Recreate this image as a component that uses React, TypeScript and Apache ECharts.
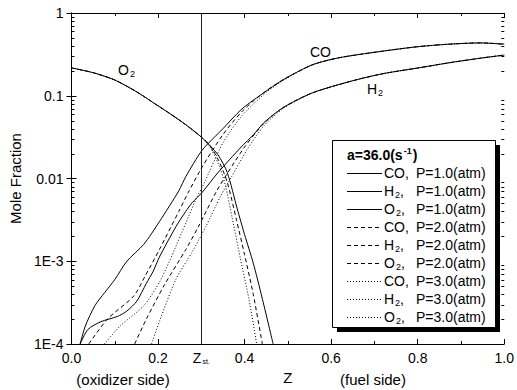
import React, { useEffect, useRef } from 'react';
import * as echarts from 'echarts';

const Z_ST = 0.303;
const X_TICK_LABELS = ['0.0', '0.2', '0.4', '0.6', '0.8', '1.0'];
const Y_TICK_VALUES = [1e-4, 1e-3, 1e-2, 1e-1, 1];
const Y_TICK_LABELS = ['1E-4', '1E-3', '0.01', '0.1', '1'];

// P = 1.0 atm (solid)
const CO_P1 = [[0.02, 1.0e-4], [0.032, 1.65e-4], [0.054, 2.9e-4], [0.077, 4.2e-4], [0.1, 6.0e-4], [0.128, 1.0e-3], [0.167, 1.6e-3], [0.203, 3.0e-3], [0.248, 7.1e-3], [0.264, 1.05e-2], [0.302, 2.2e-2], [0.35, 4.0e-2], [0.392, 6.8e-2], [0.421, 8.9e-2], [0.489, 0.156], [0.556, 0.236], [0.617, 0.287], [0.707, 0.339], [0.797, 0.39], [0.872, 0.42], [0.946, 0.435], [1.0, 0.42]];
const H2_P1 = [[0.02, 1.0e-4], [0.038, 1.5e-4], [0.068, 1.86e-4], [0.106, 2.15e-4], [0.128, 2.5e-4], [0.151, 3.3e-4], [0.173, 5.4e-4], [0.189, 7.6e-4], [0.203, 1.12e-3], [0.241, 2.6e-3], [0.264, 4.0e-3], [0.279, 5.1e-3], [0.302, 6.8e-3], [0.338, 1.17e-2], [0.392, 2.4e-2], [0.421, 3.4e-2], [0.444, 4.7e-2], [0.489, 7.2e-2], [0.556, 0.108], [0.646, 0.15], [0.72, 0.185], [0.797, 0.215], [0.872, 0.25], [0.946, 0.285], [1.0, 0.31]];
const O2_P1 = [[0.0, 0.217], [0.05, 0.19], [0.1, 0.155], [0.15, 0.112], [0.196, 0.078], [0.23, 0.0596], [0.264, 0.0447], [0.302, 0.031], [0.338, 0.0195], [0.36, 0.0118], [0.383, 0.0043], [0.4, 0.0021], [0.42, 0.00095], [0.44, 0.00037], [0.466, 0.0001]];

// P = 2.0 atm (dashed)
const CO_P2 = [[0.04, 1.0e-4], [0.083, 2.0e-4], [0.144, 3.8e-4], [0.17, 6.6e-4], [0.203, 1.38e-3], [0.248, 4.0e-3], [0.27, 6.8e-3], [0.302, 1.38e-2], [0.35, 3.4e-2], [0.392, 6.3e-2], [0.421, 8.7e-2], [0.45, 0.115], [0.489, 0.156], [0.556, 0.236], [0.617, 0.287], [0.707, 0.339], [0.797, 0.39], [0.872, 0.42], [0.946, 0.435], [1.0, 0.42]];
const H2_P2 = [[0.146, 1.0e-4], [0.173, 2.0e-4], [0.215, 5.2e-4], [0.264, 1.38e-3], [0.293, 2.6e-3], [0.335, 7.0e-3], [0.36, 1.15e-2], [0.4, 2.4e-2], [0.444, 4.6e-2], [0.489, 7.2e-2], [0.556, 0.108], [0.646, 0.15], [0.72, 0.185], [0.797, 0.215], [0.872, 0.25], [0.946, 0.285], [1.0, 0.31]];
const O2_P2 = [[0.0, 0.217], [0.05, 0.19], [0.1, 0.155], [0.15, 0.112], [0.196, 0.078], [0.23, 0.0596], [0.264, 0.0447], [0.302, 0.031], [0.32, 0.025], [0.34, 0.0165], [0.36, 0.009], [0.381, 0.0032], [0.4, 0.0012], [0.42, 0.0004], [0.441, 0.0001]];

// P = 3.0 atm (dotted)
const CO_P3 = [[0.076, 1.0e-4], [0.113, 1.66e-4], [0.167, 2.9e-4], [0.205, 5.8e-4], [0.241, 1.5e-3], [0.29, 6.0e-3], [0.302, 7.8e-3], [0.35, 2.7e-2], [0.392, 5.6e-2], [0.421, 8.0e-2], [0.45, 0.11], [0.489, 0.153], [0.556, 0.236], [0.617, 0.287], [0.707, 0.339], [0.797, 0.39], [0.872, 0.42], [0.946, 0.435], [1.0, 0.42]];
const H2_P3 = [[0.185, 1.0e-4], [0.203, 1.86e-4], [0.241, 6.0e-4], [0.279, 1.3e-3], [0.31, 2.6e-3], [0.345, 6.2e-3], [0.37, 1.05e-2], [0.405, 2.2e-2], [0.444, 4.3e-2], [0.489, 7.0e-2], [0.556, 0.108], [0.646, 0.15], [0.72, 0.185], [0.797, 0.215], [0.872, 0.25], [0.946, 0.285], [1.0, 0.31]];
const O2_P3 = [[0.0, 0.217], [0.05, 0.19], [0.1, 0.155], [0.15, 0.112], [0.196, 0.078], [0.23, 0.0596], [0.264, 0.0447], [0.302, 0.031], [0.32, 0.024], [0.34, 0.0148], [0.355, 0.0085], [0.372, 0.0032], [0.39, 0.0011], [0.41, 0.00035], [0.428, 0.0001]];

const LEGEND_TITLE = 'a=36.0(s';
const LEGEND_SPECIES = ['CO', 'H2', 'O2'];
const LEGEND_PRESSURES = ['1.0', '2.0', '3.0'];

const FONT = '"Liberation Sans", Arial, Helvetica, sans-serif';
const DASH: any[] = ['solid', [4, 3], [1, 2]];

const MINOR_TICKS: number[] = [];
for (let d = -4; d < 0; d++) {
  for (let m = 2; m <= 9; m++) MINOR_TICKS.push(m * Math.pow(10, d));
}

const rich = {
  n: { fontSize: 14, fontFamily: FONT, color: '#000' },
  s: { fontSize: 9, fontFamily: FONT, color: '#000', padding: [8, 0, 0, 1] },
};

function speciesText(sp: string, comma: boolean) {
  const c = comma ? ',' : '';
  if (sp === 'CO') return `{n|CO${c}}`;
  return `{n|${sp[0]}}{s|${sp.slice(1)}}{n|${c}}`;
}

export default function App() {
  const ref = useRef<HTMLDivElement>(null);
  useEffect(() => {
    const chart = echarts.init(ref.current!, null, { renderer: 'svg' });

    const seriesData = [
      [CO_P1, H2_P1, O2_P1],
      [CO_P2, H2_P2, O2_P2],
      [CO_P3, H2_P3, O2_P3],
    ];
    const series: any[] = [];
    seriesData.forEach((group, pi) => {
      group.forEach((data, si) => {
        const s: any = {
          name: `${LEGEND_SPECIES[si]} P=${LEGEND_PRESSURES[pi]}`,
          type: 'line',
          xAxisIndex: 0,
          yAxisIndex: 0,
          data,
          symbol: 'none',
          showSymbol: false,
          smooth: 0.25,
          silent: true,
          lineStyle: { color: '#000', width: 1, type: DASH[pi] },
          z: 3,
        };
        if (pi === 0 && si === 0) {
          s.markLine = {
            silent: true,
            symbol: ['none', 'none'],
            lineStyle: { color: '#222', width: 1, type: 'solid' },
            label: {
              show: true,
              position: 'start',
              distance: 6,
              formatter: '{z|Z}{t|st.}',
              rich: {
                z: { fontSize: 14, fontFamily: FONT, color: '#000' },
                t: { fontSize: 7, fontFamily: FONT, color: '#000', padding: [8, 0, 0, 1] },
              },
            },
            data: [{ xAxis: Z_ST }],
          };
        }
        series.push(s);
      });
    });

    series.push({
      type: 'custom',
      xAxisIndex: 0,
      yAxisIndex: 0,
      silent: true,
      clip: false,
      z: 5,
      data: MINOR_TICKS.map((v) => [0, v]),
      renderItem: (params: any, api: any) => {
        const pt = api.coord([0, api.value(1)]);
        const cs = params.coordSys;
        const y = Math.round(pt[1]) + 0.5;
        return {
          type: 'group',
          children: [
            { type: 'line', shape: { x1: cs.x, y1: y, x2: cs.x + 3, y2: y }, style: { stroke: '#000', lineWidth: 1 } },
            { type: 'line', shape: { x1: cs.x + cs.width - 3, y1: y, x2: cs.x + cs.width, y2: y }, style: { stroke: '#000', lineWidth: 1 } },
          ],
        };
      },
    });

    // legend graphic
    const lx = 332, ly = 140, lw = 163, lh = 187;
    const legendEls: any[] = [
      { type: 'rect', shape: { x: lx + 5, y: ly + 5, width: lw, height: lh }, style: { fill: '#000' }, z: 10 },
      { type: 'rect', shape: { x: lx + 0.5, y: ly + 0.5, width: lw, height: lh }, style: { fill: '#fff', stroke: '#000', lineWidth: 1 }, z: 11 },
      {
        type: 'text', x: 347, y: 155, z: 12,
        style: {
          text: `{b|${LEGEND_TITLE}}{u|-1}{b|)}`,
          verticalAlign: 'middle',
          rich: {
            b: { fontSize: 14, fontWeight: 'bold', fontFamily: FONT, color: '#000' },
            u: { fontSize: 9, fontWeight: 'bold', fontFamily: FONT, color: '#000', padding: [0, 1, 8, 1] },
          },
        },
      },
    ];
    let row = 0;
    LEGEND_PRESSURES.forEach((p, pi) => {
      LEGEND_SPECIES.forEach((sp) => {
        const y = 173 + row * 18;
        legendEls.push({
          type: 'line', z: 12,
          shape: { x1: 347, y1: y + 0.5, x2: 382, y2: y + 0.5 },
          style: { stroke: '#000', lineWidth: 1, lineDash: pi === 0 ? null : DASH[pi] },
        });
        legendEls.push({
          type: 'text', x: 384, y, z: 12,
          style: { text: speciesText(sp, true), verticalAlign: 'middle', rich },
        });
        legendEls.push({
          type: 'text', x: 416, y, z: 12,
          style: { text: `P=${p}(atm)`, verticalAlign: 'middle', fontSize: 14, fontFamily: FONT, fill: '#000' },
        });
        row++;
      });
    });

    const graphic: any[] = [
      ...legendEls,
      { type: 'text', x: 118, y: 70, z: 6, style: { text: speciesText('O2', false), verticalAlign: 'middle', rich } },
      { type: 'text', x: 310, y: 52, z: 6, style: { text: speciesText('CO', false), verticalAlign: 'middle', rich } },
      { type: 'text', x: 367, y: 89, z: 6, style: { text: speciesText('H2', false), verticalAlign: 'middle', rich } },
      { type: 'text', x: 123, y: 379, z: 6, style: { text: '(oxidizer side)', align: 'center', verticalAlign: 'middle', fontSize: 15, fontFamily: FONT, fill: '#000' } },
      { type: 'text', x: 373, y: 379, z: 6, style: { text: '(fuel side)', align: 'center', verticalAlign: 'middle', fontSize: 15, fontFamily: FONT, fill: '#000' } },
    ];

    const axisLine = { show: true, lineStyle: { color: '#000', width: 1 } };
    const axisTick = { show: true, inside: true, length: 5, lineStyle: { color: '#000', width: 1 } };
    const minorTick = { show: true, splitNumber: 2, length: 3, lineStyle: { color: '#000', width: 1 } };

    const option: any = {
      animation: false,
      backgroundColor: '#fff',
      grid: { left: 63, right: 10, top: 13, bottom: 45, containLabel: false },
      xAxis: [
        {
          type: 'value', position: 'bottom', min: 0, max: 1, interval: 0.2,
          name: 'Z', nameLocation: 'middle', nameGap: 26,
          nameTextStyle: { fontSize: 15, fontFamily: FONT, color: '#000' },
          axisLine, axisTick, minorTick, splitLine: { show: false },
          axisLabel: {
            show: true, margin: 7, fontSize: 14, fontFamily: FONT, color: '#000',
            showMinLabel: true, showMaxLabel: true,
            formatter: (v: number) => X_TICK_LABELS[Math.round(v / 0.2)] ?? '',
          },
        },
        {
          type: 'value', position: 'top', min: 0, max: 1, interval: 0.2,
          axisLine, axisTick, minorTick, splitLine: { show: false }, axisLabel: { show: false },
        },
      ],
      yAxis: [
        {
          type: 'log', logBase: 10, min: 1e-4, max: 1, position: 'left',
          name: 'Mole Fraction', nameLocation: 'middle', nameGap: 45,
          nameTextStyle: { fontSize: 15, fontFamily: FONT, color: '#000' },
          axisLine, axisTick, splitLine: { show: false },
          axisLabel: {
            show: true, margin: 8, fontSize: 14, fontFamily: FONT, color: '#000',
            formatter: (v: number) => {
              const i = Y_TICK_VALUES.findIndex((t) => Math.abs(Math.log10(t) - Math.log10(v)) < 1e-6);
              return i >= 0 ? Y_TICK_LABELS[i] : '';
            },
          },
        },
        {
          type: 'log', logBase: 10, min: 1e-4, max: 1, position: 'right',
          axisLine, axisTick, splitLine: { show: false }, axisLabel: { show: false },
        },
      ],
      series,
      graphic,
    };
    chart.setOption(option);
    return () => chart.dispose();
  }, []);
  return <div ref={ref} style={{ position: 'fixed', left: 0, top: 0, width: 517, height: 390, background: '#fff' }} />;
}
